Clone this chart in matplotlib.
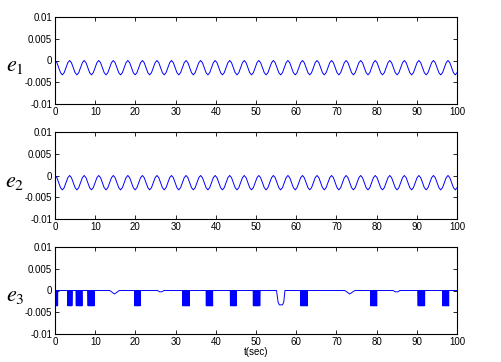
import numpy as np
import matplotlib.pyplot as plt

plt.rcParams['font.family'] = ['Liberation Sans', 'DejaVu Sans']
plt.rcParams['mathtext.fontset'] = 'stix'

# --- valeurs ---
t_max = 100
e_periode = 3.62      # période de l'oscillation de e1 et e2 (s)
# un cycle de e1/e2 (8 pas), du pic (0) au creux (-0.0033)
e_cycle = [0, -0.0005, -0.00165, -0.0028, -0.0033, -0.0028, -0.00165, -0.0005]
e_depart = -0.012     # valeur initiale à t=0 (coupée par l'axe)

# e3 : rafales d'oscillations rapides (début, fin) entre 0 et le creux
e3_rafales = [(0.05, 0.7), (3.2, 4.25), (5.25, 6.75), (8.2, 9.8), (19.8, 21.25),
              (31.75, 33.4), (37.6, 39.25), (43.6, 45.1), (49.3, 51.0),
              (61.1, 62.75), (78.5, 80.1), (90.3, 92.0), (96.4, 98.0)]
e3_creux_rafale = -0.0035
# e3 : parties lentes (points clés)
e3_t = [0, 0.05, 13.6, 14.8, 16.0, 25.5, 26.0, 26.6, 27.1, 55.1, 55.5, 55.8, 56.6,
        56.9, 57.2, 72.1, 73.3, 74.6, 84.1, 84.6, 85.3, 85.8, 100]
e3_v = [-0.012, 0, 0, -0.0008, 0, 0, -0.0003, -0.0003, 0, 0, -0.0027, -0.0033, -0.0033,
        -0.0027, 0, 0, -0.0008, 0, 0, -0.0003, -0.0003, 0, 0]

yticks = [-0.01, -0.005, 0, 0.005, 0.01]
ytick_labels = ['-0.01', '-0.005', '0', '0.005', '0.01']
xticks = list(range(0, 101, 10))

# construction de e1 / e2 à partir du cycle lu
n = int(t_max / e_periode * len(e_cycle)) + 2
t_e = np.concatenate([[0], np.arange(n) * e_periode / len(e_cycle) + 0.02])
v_e = np.concatenate([[e_depart], np.resize(e_cycle, n)])

fig = plt.figure(figsize=(5.02, 3.62), dpi=100)
W, H = 502, 362
left, width, height = 55, 402, 87
tops = [17, 132, 247]
noms = [r'$e_1$', r'$e_2$', r'$e_3$']
bleu = '#0000ff'

for i, top in enumerate(tops):
    ax = fig.add_axes([left / W, (H - top - height) / H, width / W, height / H])
    if i < 2:
        ax.plot(t_e, v_e, color=bleu, lw=0.7)
    else:
        ax.plot(e3_t, e3_v, color=bleu, lw=0.7)
        for a, b in e3_rafales:
            tb = np.arange(a, b, 0.04)
            vb = np.resize([0, e3_creux_rafale], len(tb))
            ax.plot(tb, vb, color=bleu, lw=0.7)
    ax.set_xlim(0, 100)
    ax.set_ylim(-0.01, 0.01)
    ax.set_xticks(xticks)
    ax.set_yticks(yticks)
    ax.set_yticklabels(ytick_labels)
    ax.tick_params(direction='in', top=True, right=True, length=3, width=0.6,
                   labelsize=7, pad=2)
    for s in ax.spines.values():
        s.set_linewidth(0.8)
    fig.text(15 / W, 1 - (top + 49) / H, noms[i], fontsize=16, ha='center', va='center')

fig.text((left + width / 2) / W, 1 - 352 / H, 't(sec)', fontsize=7, ha='center', va='center')

plt.savefig('out.png', dpi=100)
